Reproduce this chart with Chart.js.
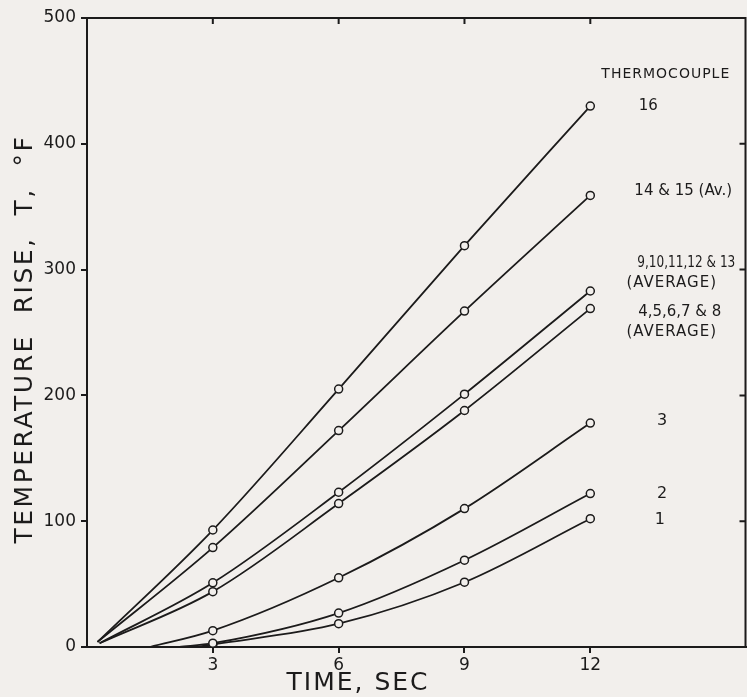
<!DOCTYPE html>
<html>
<head>
<meta charset="utf-8">
<script src="https://cdn.jsdelivr.net/npm/chart.js@4.4.0/dist/chart.umd.min.js"></script>
<style>
  body { margin: 0; background: #f2efec; overflow: hidden; }
  #wrap { width: 751px; height: 697px; }
</style>
</head>
<body>
<div id="wrap"><canvas id="riseChart"></canvas></div>
<script>
// --- Data ---
const times = [3, 6, 9, 12];
const timeTicks = [3, 6, 9, 12];
const riseTicks = [0, 100, 200, 300, 400, 500];

const tc16 = [93, 205, 319, 430];
const tc14_15 = [79, 172, 267, 359];
const tc9_13 = [51, 123, 201, 283];
const tc4_8 = [44, 114, 188, 269];
const tc3 = [13, 55, 110, 178];
const tc2 = [3, 27, 69, 122];
const tc1 = [2, 18.5, 51.5, 102];

// where each curve leaves the axis
const startTime = [0.25, 0.25, 0.3, 0.3, 1.5, 2.2, 2.6];
const startRise = [4, 4, 3, 3, 0, 0, 0];

const seriesNames = ['16', '14 & 15 (Av.)', '9,10,11,12 & 13', '4,5,6,7 & 8', '3', '2', '1'];
const seriesValues = [tc16, tc14_15, tc9_13, tc4_8, tc3, tc2, tc1];

const ink = '#1c1b1b';
const paper = '#f2efec';
const letterFont = '"DejaVu Sans", sans-serif';

const datasets = seriesValues.map((vals, i) => ({
    label: seriesNames[i],
    data: [{ x: startTime[i], y: startRise[i] }].concat(times.map((t, j) => ({ x: t, y: vals[j] }))),
    showLine: true,
    borderColor: ink,
    borderWidth: 1.8,
    cubicInterpolationMode: 'monotone',
    pointRadius: ctx => (ctx.raw && ctx.raw.x < 3 ? 0 : 4),
    pointBorderColor: ink,
    pointBackgroundColor: paper,
    pointBorderWidth: 1.5
}));

// --- Right-hand labels, frame and axis titles ---
const annotations = {
    id: 'annotations',
    afterDraw(chart) {
        const { ctx, chartArea, scales: { x, y } } = chart;
        const { left, right, top, bottom } = chartArea;
        ctx.save();
        ctx.strokeStyle = ink;
        ctx.lineWidth = 2;
        ctx.beginPath();
        ctx.moveTo(left, top);
        ctx.lineTo(right, top);
        ctx.lineTo(right, bottom);
        timeTicks.forEach(t => {
            const px = x.getPixelForValue(t);
            ctx.moveTo(px, top);
            ctx.lineTo(px, top + 6);
        });
        riseTicks.slice(1, 5).forEach(v => {
            const py = y.getPixelForValue(v);
            ctx.moveTo(right, py);
            ctx.lineTo(right - 6, py);
        });
        ctx.stroke();

        ctx.fillStyle = ink;
        ctx.textBaseline = 'middle';
        const put = (text, t, v, align, size, maxW) => {
            ctx.font = size + 'px ' + letterFont;
            ctx.textAlign = align;
            ctx.fillText(text, x.getPixelForValue(t), y.getPixelForValue(v), maxW);
        };
        ctx.letterSpacing = '1px';
        put('THERMOCOUPLE', 13.8, 455, 'center', 14, 140);
        put('(AVERAGE)', 12.86, 289, 'left', 15, 98);
        put('(AVERAGE)', 12.86, 250, 'left', 15, 104);
        ctx.letterSpacing = '0px';
        put('16', 13.38, 430, 'center', 15);
        put('14 & 15 (Av.)', 13.05, 362, 'left', 15, 100);
        put('9,10,11,12 & 13', 13.12, 305, 'left', 15, 98);
        put('4,5,6,7 & 8', 13.14, 266, 'left', 15, 93);
        put('3', 13.71, 180, 'center', 16);
        put('2', 13.71, 122, 'center', 16);
        put('1', 13.66, 101, 'center', 16);

        // axis titles
        ctx.font = '25px ' + letterFont;
        ctx.textAlign = 'center';
        ctx.letterSpacing = '2px';
        ctx.fillText('TIME, SEC', 358, 683);
        ctx.letterSpacing = '2.5px';
        ctx.translate(25, 339);
        ctx.rotate(-Math.PI / 2);
        ctx.fillText('TEMPERATURE  RISE,  T,  °F', 0, 0);
        ctx.restore();
    }
};

const ctx = document.getElementById('riseChart').getContext('2d');
new Chart(ctx, {
    type: 'scatter',
    data: { datasets },
    options: {
        responsive: true,
        maintainAspectRatio: false,
        animation: false,
        layout: { padding: { top: 18, right: 2, left: 0, bottom: 0 } },
        plugins: {
            legend: { display: false },
            tooltip: { enabled: false }
        },
        scales: {
            x: {
                type: 'linear',
                min: 0,
                max: 15.7,
                afterBuildTicks: scale => { scale.ticks = timeTicks.map(v => ({ value: v })); },
                afterFit: scale => {
                    scale.height = 50;
                    scale.paddingLeft = 0;
                    scale.paddingRight = 0;
                },
                grid: { drawOnChartArea: false, drawTicks: true, tickLength: 6, color: ink, lineWidth: 2 },
                border: { display: true, color: ink, width: 2 },
                ticks: { color: ink, padding: 2, font: { family: letterFont, size: 17 } }
            },
            y: {
                min: 0,
                max: 500,
                afterBuildTicks: scale => { scale.ticks = riseTicks.map(v => ({ value: v })); },
                afterFit: scale => {
                    scale.width = 87;
                    scale.paddingTop = 0;
                    scale.paddingBottom = 0;
                },
                grid: { drawOnChartArea: false, drawTicks: true, tickLength: 6, color: ink, lineWidth: 2 },
                border: { display: true, color: ink, width: 2 },
                ticks: { color: ink, padding: 5, font: { family: letterFont, size: 17 } }
            }
        }
    },
    plugins: [annotations]
});
</script>
</body>
</html>
